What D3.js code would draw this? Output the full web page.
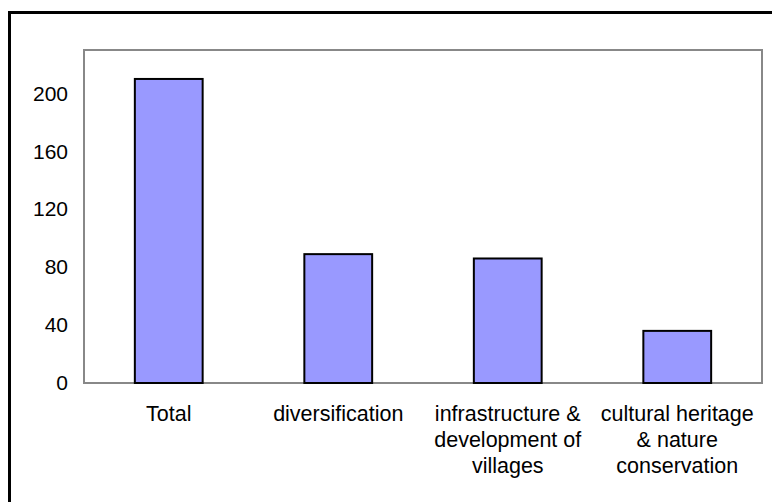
<!DOCTYPE html>
<html>
<head>
<meta charset="utf-8">
<script src="https://cdn.jsdelivr.net/npm/d3@7"></script>
<style>
  body { margin: 0; background: #fff; }
  text { font-family: "Liberation Sans", Arial, Helvetica, sans-serif; }
</style>
</head>
<body>
<div id="chart"></div>
<script>
let categories = [
    ["Total"],
    ["diversification"],
    ["infrastructure &", "development of", "villages"],
    ["cultural heritage", "& nature", "conservation"]
];
let values = [210, 89, 86, 36];
let yTicks = [0, 40, 80, 120, 160, 200];

let w = 772, h = 502;
let plotLeft = 84, plotRight = 762, plotTop = 50, plotBottom = 383;

let svg = d3.select("#chart")
    .append("svg")
    .attr("width", w)
    .attr("height", h);

// outer frame (runs off the bottom/right of the picture)
svg.append("rect")
    .attr("x", 9.5).attr("y", 12.5)
    .attr("width", w).attr("height", h)
    .attr("fill", "none")
    .attr("stroke", "#000")
    .attr("stroke-width", 3);

let xScale = d3.scaleBand()
    .domain(d3.range(categories.length))
    .range([plotLeft, plotRight])
    .paddingInner(0.6)
    .paddingOuter(0.3);

let yScale = d3.scaleLinear()
    .domain([0, 230])
    .range([plotBottom, plotTop]);

// plot area border
svg.append("rect")
    .attr("x", plotLeft).attr("y", plotTop)
    .attr("width", plotRight - plotLeft)
    .attr("height", plotBottom - plotTop)
    .attr("fill", "none")
    .attr("stroke", "#888")
    .attr("stroke-width", 2);

svg.selectAll("rect.bar")
    .data(values)
    .enter()
    .append("rect")
    .attr("class", "bar")
    .attr("x", (d, i) => xScale(i))
    .attr("y", (d) => yScale(d))
    .attr("width", xScale.bandwidth())
    .attr("height", (d) => yScale(0) - yScale(d))
    .attr("fill", "#9999ff")
    .attr("stroke", "#000")
    .attr("stroke-width", 2);

let yAxis = svg.append("g")
    .attr("transform", "translate(" + plotLeft + ",0)")
    .call(d3.axisLeft(yScale).tickValues(yTicks).tickSize(0).tickPadding(16));
yAxis.select(".domain").remove();
yAxis.selectAll("text")
    .attr("font-size", 21)
    .attr("font-family", "Liberation Sans, Arial, sans-serif")
    .attr("fill", "#000");

let labels = svg.selectAll("text.cat")
    .data(categories)
    .enter()
    .append("text")
    .attr("class", "cat")
    .attr("text-anchor", "middle")
    .attr("font-size", 21.5)
    .attr("fill", "#000");

labels.each(function(lines, i) {
    let cx = xScale(i) + xScale.bandwidth() / 2;
    d3.select(this).selectAll("tspan")
        .data(lines)
        .enter()
        .append("tspan")
        .attr("x", cx)
        .attr("y", (l, j) => 421 + j * 26)
        .text((l) => l);
});
</script>
</body>
</html>
